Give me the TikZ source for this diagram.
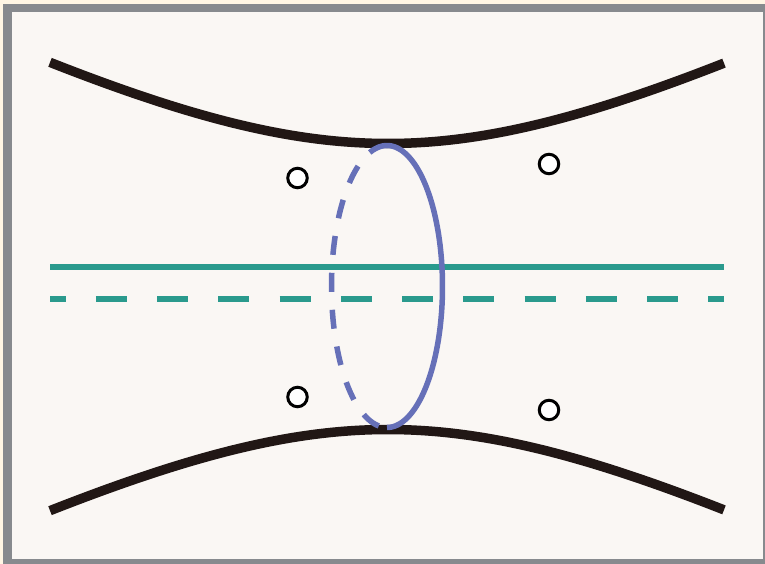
\documentclass[tikz,border=0pt]{standalone}
\usepackage{xcolor}
\usepackage{tikz}
\usetikzlibrary{positioning}

\definecolor{paper}{HTML}{FAF7F4}
\definecolor{cream}{HTML}{FFF6E4}
\definecolor{framegray}{HTML}{878A8E}
\definecolor{rimink}{HTML}{211715}
\definecolor{waistblue}{HTML}{6670B8}
\definecolor{axisteal}{HTML}{2A9A8D}

\begin{document}
\begin{tikzpicture}[
    x=1pt, y=-1pt,
    rim/.style={draw=rimink, line width=9.5pt},
    waist/.style={draw=waistblue, line width=5.5pt},
    axisline/.style={draw=axisteal, line width=6pt},
    marker/.style={circle, draw=black, fill=white, line width=3pt, minimum size=19.5pt, inner sep=0pt}
]
\useasboundingbox (0,0) rectangle (765,564);

% Frame and paper
\fill[cream] (0,0) rectangle (765,564);
\draw[framegray, fill=paper, line width=8.4pt] (7.5,8.2) rectangle (767,563.5);

% Hyperbolic rims
\draw[rim] plot[domain=50:724, samples=120] (\x, {286.5-143*sqrt(1+((\x-388)/280)^2)});
\draw[rim] plot[domain=50:724, samples=120] (\x, {286.5+143*sqrt(1+((\x-388)/280)^2)});

% Axis lines
\coordinate (axisL) at (50,267);
\coordinate (axisR) at (724,267);
\coordinate (shiftL) at (50,299);
\coordinate (shiftR) at (724,299);
\draw[axisline] (axisL) -- (axisR);
\draw[axisline, dash pattern=on 31pt off 30.27pt, dash phase=15.5pt] (shiftL) -- (shiftR);

% Waist loop: front half solid, back half dashed
\draw[waist] plot[domain=0:180, samples=90] ({387+55.5*sin(\x)}, {286.5-141*cos(\x)});
\draw[waist, dash pattern=on 19pt off 18pt] plot[domain=0:180, samples=90] ({387-55.5*sin(\x)}, {286.5-141*cos(\x)});

% Marked points
\node[marker] (ul) at (297.5,178) {};
\node[marker] (ur) at (549,164) {};
\node[marker] (ll) at (297.5,397) {};
\node[marker] (lr) at (549,410) {};

\end{tikzpicture}
\end{document}
